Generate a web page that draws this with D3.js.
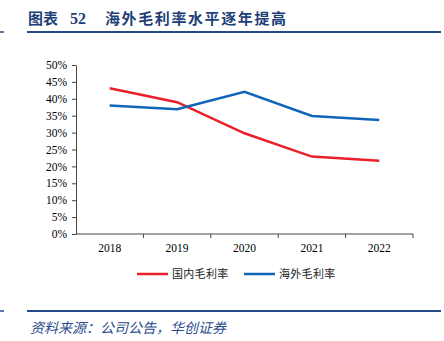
<!DOCTYPE html>
<html>
<head>
<meta charset="utf-8">
<script src="https://cdn.jsdelivr.net/npm/d3@7"></script>
<style>
  body { margin: 0; background: #fff; }
  svg { display: block; }
</style>
</head>
<body>
<svg id="chart" width="444" height="341"></svg>
<script>
// données
const years = ["2018", "2019", "2020", "2021", "2022"]
const domestic = [43.1, 39.0, 29.8, 22.9, 21.7]   // 国内毛利率
const overseas = [38.0, 36.9, 42.1, 34.9, 33.7]   // 海外毛利率
const yTicks = [0, 5, 10, 15, 20, 25, 30, 35, 40, 45, 50]
const seriesNames = ["国内毛利率", "海外毛利率"]
const colors = ["#e8202a", "#1064b9"]

const svg = d3.select("#chart")
const navy = "#264a86"

// titre
svg.append("text").attr("x", 28).attr("y", 24)
  .attr("font-family", "'Noto Sans CJK SC', sans-serif").attr("font-weight", "bold")
  .attr("font-size", 15).attr("fill", "#1f3f78").text("图表")
svg.append("text").attr("x", 70).attr("y", 24)
  .attr("font-family", "'Liberation Serif', serif").attr("font-weight", "bold")
  .attr("font-size", 16).attr("fill", "#1f3f78").text("52")
svg.append("text").attr("x", 105).attr("y", 24)
  .attr("font-family", "'Noto Sans CJK SC', sans-serif").attr("font-weight", "bold")
  .attr("font-size", 15).attr("fill", "#1f3f78").attr("letter-spacing", 1.6).text("海外毛利率水平逐年提高")

// lignes de séparation
;[32, 311].forEach(y => {
  svg.append("line").attr("x1", 0).attr("x2", 4).attr("y1", y).attr("y2", y)
    .attr("stroke", navy).attr("stroke-width", 1.5)
  svg.append("line").attr("x1", 27).attr("x2", 441).attr("y1", y).attr("y2", y)
    .attr("stroke", navy).attr("stroke-width", 2)
})

// échelles
const x = d3.scaleBand().domain(years).range([76, 413])
const y = d3.scaleLinear().domain([0, 50]).range([234, 65])

// axe y
const yAxis = svg.append("g").attr("transform", "translate(76,0)")
  .call(d3.axisLeft(y).tickValues(yTicks).tickFormat(d => d + "%").tickSize(4).tickSizeOuter(0))
yAxis.selectAll("text").attr("font-family", "'Liberation Serif', serif").attr("font-size", 11.5)
  .attr("fill", "#000").attr("dx", -2)
yAxis.selectAll("line, path").attr("stroke", "#444")

// axe x
const xTicks = years.map(d => x(d) + x.bandwidth())
const xAxis = svg.append("g").attr("transform", "translate(0,234)")
xAxis.append("line").attr("x1", 76).attr("x2", 413).attr("stroke", "#444")
xAxis.selectAll(".tk").data(xTicks).join("line")
  .attr("x1", d => d).attr("x2", d => d).attr("y1", 0).attr("y2", 4).attr("stroke", "#444")
xAxis.selectAll(".lbl").data(years).join("text")
  .attr("x", d => x(d) + x.bandwidth() / 2).attr("y", 18)
  .attr("text-anchor", "middle").attr("font-family", "'Liberation Serif', serif")
  .attr("font-size", 11.5).attr("fill", "#000").text(d => d)

// courbes
const line = d3.line().x((d, i) => x(years[i]) + x.bandwidth() / 2).y(d => y(d))
;[domestic, overseas].forEach((s, k) => {
  svg.append("path").datum(s).attr("d", line).attr("fill", "none")
    .attr("stroke", colors[k]).attr("stroke-width", 2.5)
})

// légende
const legendX = [137, 244]
seriesNames.forEach((n, k) => {
  svg.append("line").attr("x1", legendX[k]).attr("x2", legendX[k] + 31)
    .attr("y1", 274).attr("y2", 274).attr("stroke", colors[k]).attr("stroke-width", 2.5)
  svg.append("text").attr("x", legendX[k] + 35).attr("y", 278)
    .attr("font-family", "'Noto Sans CJK SC', sans-serif").attr("font-size", 11)
    .attr("letter-spacing", 0.3).attr("fill", "#222").text(n)
})

// source
svg.append("text").attr("x", 30).attr("y", 333)
  .attr("font-family", "'Noto Sans CJK SC', sans-serif").attr("font-style", "italic")
  .attr("font-size", 14).attr("fill", "#2b4c8c").text("资料来源：公司公告，华创证券")
</script>
</body>
</html>
